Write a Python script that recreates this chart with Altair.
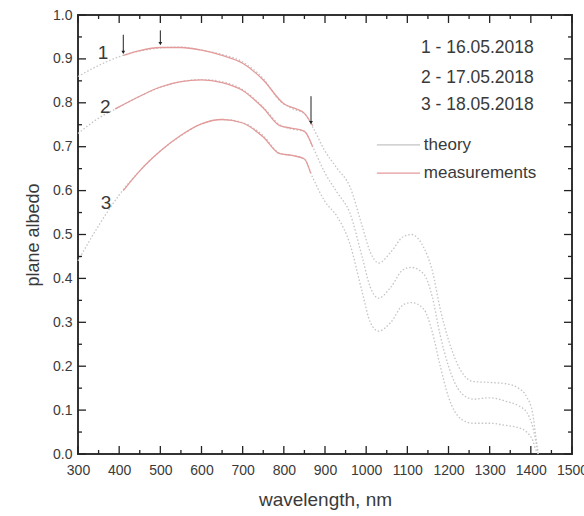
import altair as alt
import pandas as pd

FONT = "Liberation Sans"

# ---------------- data ----------------
theory_nm = [300, 350, 400, 450, 500, 550, 600, 650, 700, 750, 790, 820, 850, 870, 900, 930, 960,
             990, 1010, 1030, 1060, 1090, 1110, 1140, 1160, 1180, 1200, 1230, 1260, 1300, 1340,
             1370, 1390, 1405, 1412, 1418]
theory_1 = [0.86, 0.885, 0.905, 0.918, 0.925, 0.927, 0.92, 0.91, 0.893, 0.855, 0.805, 0.787, 0.775,
            0.745, 0.69, 0.65, 0.61, 0.52, 0.46, 0.435, 0.46, 0.495, 0.5, 0.47, 0.42, 0.33, 0.26,
            0.19, 0.165, 0.163, 0.16, 0.15, 0.13, 0.09, 0.04, 0.0]
theory_2 = [0.73, 0.765, 0.79, 0.815, 0.835, 0.848, 0.853, 0.848, 0.83, 0.79, 0.75, 0.74, 0.735,
            0.70, 0.64, 0.595, 0.55, 0.45, 0.38, 0.355, 0.38, 0.42, 0.425, 0.41, 0.36, 0.27, 0.2,
            0.14, 0.125, 0.128, 0.12, 0.11, 0.095, 0.06, 0.03, 0.0]
theory_3 = [0.44, 0.52, 0.59, 0.645, 0.69, 0.725, 0.752, 0.762, 0.755, 0.725, 0.685, 0.68, 0.672,
            0.63, 0.575, 0.54, 0.48, 0.37, 0.30, 0.28, 0.30, 0.34, 0.345, 0.33, 0.28, 0.2, 0.13,
            0.08, 0.07, 0.07, 0.065, 0.06, 0.05, 0.03, 0.01, 0.0]

meas_nm_1 = [410, 450, 500, 550, 600, 650, 700, 750, 800, 830, 850, 870]
meas_1 = [0.908, 0.919, 0.926, 0.926, 0.92, 0.908, 0.89, 0.852, 0.798, 0.786, 0.776, 0.748]
meas_nm_2 = [390, 450, 500, 550, 600, 650, 700, 750, 790, 820, 850, 870]
meas_2 = [0.786, 0.815, 0.836, 0.848, 0.852, 0.846, 0.828, 0.788, 0.748, 0.742, 0.735, 0.70]
meas_nm_3 = [410, 450, 500, 550, 600, 650, 700, 750, 790, 820, 850, 865]
meas_3 = [0.6, 0.645, 0.69, 0.726, 0.752, 0.762, 0.754, 0.722, 0.684, 0.68, 0.672, 0.64]

curve_labels = ["1", "2", "3"]
curve_label_nm = [361, 366, 368]
curve_label_val = [0.913, 0.79, 0.572]

arrow_nm = [410, 500, 866]
arrow_top = [0.955, 0.965, 0.815]
arrow_tip = [0.915, 0.935, 0.755]

date_labels = ["1 - 16.05.2018", "2 - 17.05.2018", "3 - 18.05.2018"]
date_val = [0.925, 0.856, 0.794]
date_nm = 1133

legend_names = ["theory", "measurements"]
legend_val = [0.704, 0.64]
legend_line_nm = [1026, 1131]
legend_text_nm = 1140

x_major = list(range(300, 1501, 100))
x_minor = list(range(350, 1500, 100))
y_major = [i / 10 for i in range(0, 11)]
y_minor = [i / 100 for i in range(5, 100, 10)]

W, H = 494, 439
X0, X1, Y0, Y1 = 300, 1500, 0.0, 1.0
THEORY_COLOR = "#c4c4c4"
MEAS_COLOR = "#e49a9a"
TEXT = "#3a3a3a"
TC = "#222"

# ---------------- frames ----------------
theory_df = pd.concat([
    pd.DataFrame({"nm": theory_nm, "val": v, "curve": c})
    for v, c in zip([theory_1, theory_2, theory_3], curve_labels)
])
meas_df = pd.concat([
    pd.DataFrame({"nm": n, "val": v, "curve": c})
    for n, v, c in zip([meas_nm_1, meas_nm_2, meas_nm_3], [meas_1, meas_2, meas_3], curve_labels)
])

xs = alt.Scale(domain=[X0, X1], nice=False, zero=False)
ys = alt.Scale(domain=[Y0, Y1], nice=False)

X_main = alt.X("nm:Q", scale=xs,
               axis=alt.Axis(values=x_major, format="d", title="wavelength, nm",
                             ticks=False, domain=False, grid=False, labelFont=FONT, labelFontSize=14,
                             labelColor=TEXT, labelPadding=9, titleFont=FONT, titleFontSize=19,
                             titleFontWeight="normal", titleColor=TEXT, titlePadding=13,
                             labelFlush=False))
Y_main = alt.Y("val:Q", scale=ys,
               axis=alt.Axis(values=y_major, format=".1f", title="plane albedo",
                             ticks=False, domain=False, grid=False, labelFont=FONT, labelFontSize=14,
                             labelColor=TEXT, labelPadding=6, titleFont=FONT, titleFontSize=18,
                             titleFontWeight="normal", titleColor=TEXT, titlePadding=10,
                             labelFlush=False))
XP = alt.X("nm:Q", scale=xs)
YP = alt.Y("val:Q", scale=ys)

theory = alt.Chart(theory_df).mark_line(
    color=THEORY_COLOR, strokeWidth=1.3, strokeDash=[1.5, 2], interpolate="monotone"
).encode(x=X_main, y=Y_main, detail="curve:N")

meas = alt.Chart(meas_df).mark_line(
    color=MEAS_COLOR, strokeWidth=1.3, interpolate="monotone"
).encode(x=XP, y=YP, detail="curve:N")

lab_df = pd.DataFrame({"nm": curve_label_nm, "val": curve_label_val, "t": curve_labels})
labels = alt.Chart(lab_df).mark_text(font=FONT, fontSize=19, color=TEXT, align="center",
                                     baseline="middle").encode(x=XP, y=YP, text="t:N")

date_df = pd.DataFrame({"nm": [date_nm] * 3, "val": date_val, "t": date_labels})
dates = alt.Chart(date_df).mark_text(font=FONT, fontSize=17.5, color=TEXT, align="left",
                                     baseline="middle").encode(x=XP, y=YP, text="t:N")

leg_text_df = pd.DataFrame({"nm": [legend_text_nm] * 2, "val": legend_val, "t": legend_names})
leg_text = alt.Chart(leg_text_df).mark_text(font=FONT, fontSize=17, color=TEXT, align="left",
                                            baseline="middle").encode(x=XP, y=YP, text="t:N")

arr_df = pd.DataFrame({"nm": arrow_nm, "top": arrow_top, "tip": arrow_tip})
arr_rule = alt.Chart(arr_df).mark_rule(color="#222", strokeWidth=1).encode(
    x=XP, y=alt.Y("top:Q", scale=ys), y2="tip:Q")
arr_head = alt.Chart(arr_df).mark_point(shape="triangle-down", filled=True, color="#222", size=14,
                                        opacity=1).encode(
    x=XP, y=alt.Y("tip:Q", scale=ys))

leg_line_df = pd.DataFrame({"nm": [legend_line_nm[0]] * 2, "nm2": [legend_line_nm[1]] * 2,
                            "val": legend_val, "name": legend_names})
leg_lines = alt.Chart(leg_line_df).mark_rule(strokeWidth=1.3).encode(
    x=XP, x2="nm2:Q", y=YP,
    color=alt.Color("name:N", scale=alt.Scale(domain=legend_names, range=[THEORY_COLOR, MEAS_COLOR]),
                    legend=None))


# ---------------- inward ticks: "stroke" symbols sitting on the frame edges ----------------
def tick_points(df, length, vertical, offset):
    mark_kw = dict(shape="stroke", size=length * length, filled=False, color=TC, strokeWidth=1.3,
                   opacity=1, angle=90 if vertical else 0)
    if vertical:
        mark_kw["yOffset"] = offset
    else:
        mark_kw["xOffset"] = offset
    return alt.Chart(df).mark_point(**mark_kw).encode(x=XP, y=YP)


tick_layers = []
for vals, length in [(x_major, 8), (x_minor, 4)]:
    tick_layers.append(tick_points(pd.DataFrame({"nm": vals, "val": Y0}), length, True, -length / 2))
    tick_layers.append(tick_points(pd.DataFrame({"nm": vals, "val": Y1}), length, True, length / 2))
for vals, length in [(y_major, 8), (y_minor, 4)]:
    tick_layers.append(tick_points(pd.DataFrame({"val": vals, "nm": X0}), length, False, length / 2))
    tick_layers.append(tick_points(pd.DataFrame({"val": vals, "nm": X1}), length, False, -length / 2))

chart = alt.layer(
    theory, meas, labels, arr_rule, arr_head, dates, leg_lines, leg_text, *tick_layers
).properties(
    width=W, height=H,
    autosize=alt.AutoSizeParams(type="none"),
    padding={"left": 78, "top": 15, "right": 12, "bottom": 62},
    background="white",
).configure_view(stroke="#333", strokeWidth=2)

chart.save("out.html", embed_options={"renderer": "svg", "actions": False})
